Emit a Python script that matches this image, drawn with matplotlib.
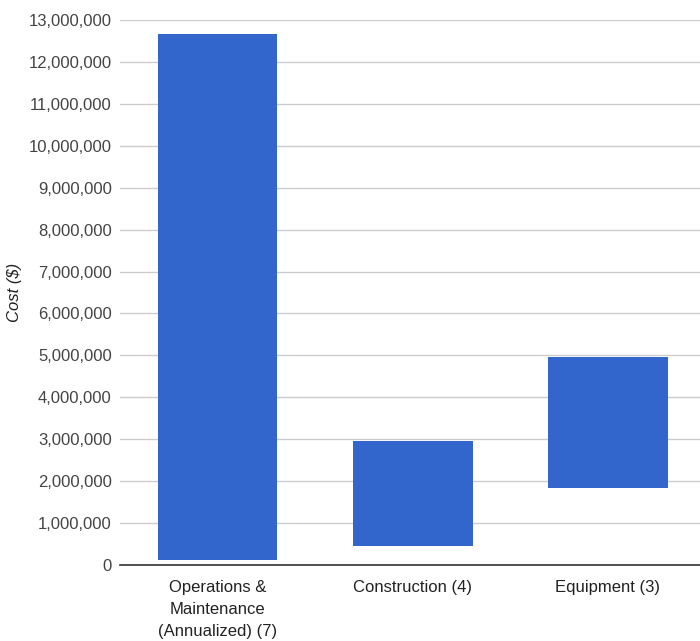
import matplotlib
matplotlib.use("Agg")
import matplotlib.pyplot as plt
from matplotlib.ticker import FuncFormatter

categories = ["Operations &\nMaintenance\n(Annualized) (7)", "Construction (4)", "Equipment (3)"]
low_values = [120000, 460000, 1830000]
high_values = [12670000, 2960000, 4960000]
y_ticks = list(range(0, 13000001, 1000000))

plt.rcParams['font.family'] = ['Liberation Sans', 'DejaVu Sans']

fig = plt.figure(figsize=(7.0, 6.41), dpi=100)
ax = fig.add_axes([120/700, 76/641, 580/700, 545/641])

x = list(range(len(categories)))
heights = [h - l for h, l in zip(high_values, low_values)]
ax.bar(x, heights, bottom=low_values, width=0.615, color="#3366CC", zorder=3)

ax.set_xlim(-0.5, 2.474)
ax.set_ylim(0, 13000000)
ax.set_yticks(y_ticks)
ax.yaxis.set_major_formatter(FuncFormatter(lambda v, p: f"{int(v):,}"))
ax.grid(axis="y", color="#cccccc", linewidth=1, zorder=0)
ax.set_xticks(x)
ax.set_xticklabels(categories, fontsize=12, color="#222222", linespacing=1.6)
ax.tick_params(axis="x", length=0, pad=10.5)
ax.tick_params(axis="y", length=0, pad=6, labelsize=12, labelcolor="#444444")
for s in ["top", "right", "left"]:
    ax.spines[s].set_visible(False)
ax.spines["bottom"].set_color("#333333")
ax.spines["bottom"].set_linewidth(1.2)
ax.spines["bottom"].set_zorder(4)

fig.text(15/700, (641-292)/641, "Cost ($)", rotation=90, style="italic", fontsize=12,
         color="#222222", ha="center", va="center")

fig.savefig("out.png", dpi=100)
